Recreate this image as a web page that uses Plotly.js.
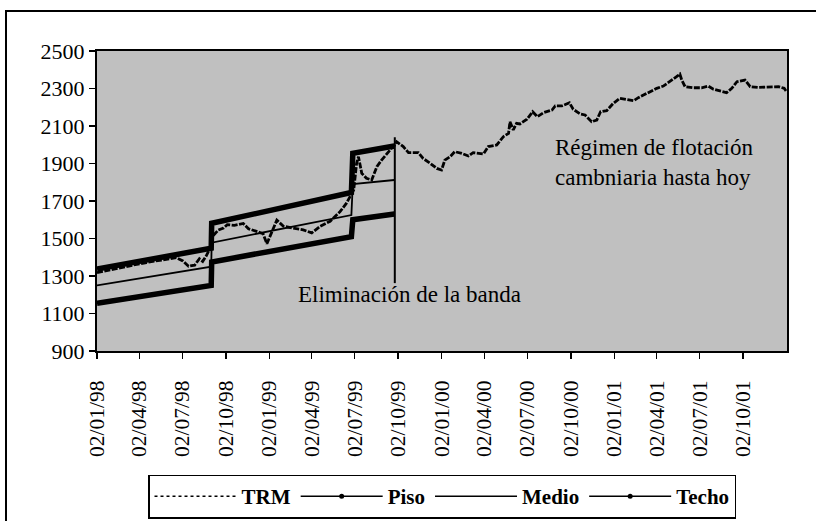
<!DOCTYPE html>
<html>
<head>
<meta charset="utf-8">
<script src="https://cdn.plot.ly/plotly-3.0.1.min.js"></script>
<style>
  html, body { margin: 0; padding: 0; background: #fff; overflow: hidden; }
  #chart { width: 816px; height: 521px; }
  #chart text { font-family: 'Liberation Serif', 'Times New Roman', serif !important; }
  #frame { position: absolute; left: 5px; top: 10px; width: 2000px; height: 2000px;
           border-left: 2px solid #000; border-top: 2px solid #000; pointer-events: none; }
</style>
</head>
<body>
<div id="chart"></div>
<div id="frame"></div>
<script>
// ---- Data ----
const trmDates = [
  '1998-01-02','1998-01-23','1998-02-13','1998-03-06','1998-03-27','1998-04-17','1998-05-08','1998-05-29',
  '1998-06-19','1998-07-03','1998-07-15','1998-07-28','1998-08-07','1998-08-14','1998-08-21','1998-08-28',
  '1998-09-04','1998-09-16','1998-09-27','1998-10-05','1998-10-20','1998-11-08','1998-11-19','1998-12-06',
  '1998-12-20','1998-12-28','1999-01-07','1999-01-18','1999-02-01','1999-02-22','1999-03-15','1999-04-02',
  '1999-04-20','1999-05-11','1999-06-01','1999-06-15','1999-06-25',
  '1999-06-30','1999-07-06','1999-07-10','1999-07-17','1999-07-27','1999-08-07','1999-08-18','1999-08-28',
  '1999-09-08','1999-09-18',
  '1999-09-24','1999-09-29','1999-10-13','1999-10-24','1999-11-14','1999-11-24','1999-12-09','1999-12-23',
  '2000-01-02','2000-01-09','2000-01-20','2000-01-30','2000-02-14','2000-02-28','2000-03-09','2000-03-31',
  '2000-04-10','2000-04-28','2000-05-12','2000-05-23','2000-05-26','2000-06-02','2000-06-09','2000-06-16',
  '2000-07-01','2000-07-13','2000-07-23','2000-08-05','2000-08-23','2000-08-30','2000-09-13','2000-09-29',
  '2000-10-07','2000-10-22','2000-11-01','2000-11-15','2000-11-26','2000-12-04','2000-12-17','2000-12-31',
  '2001-01-14','2001-01-28','2001-02-12','2001-02-22','2001-03-12','2001-04-02','2001-04-16','2001-04-30',
  '2001-05-14','2001-05-21','2001-05-25','2001-06-01','2001-06-19','2001-07-06','2001-07-20','2001-07-31',
  '2001-08-14','2001-08-28','2001-09-08','2001-09-19','2001-10-06','2001-10-17','2001-11-03','2001-11-28',
  '2001-12-16','2001-12-28','2002-01-02'
];
const trmValues = [
  1318,1330,1342,1352,1362,1372,1382,1390,
  1398,1380,1352,1358,1392,1378,1405,1440,
  1512,1545,1556,1574,1570,1580,1552,1538,
  1525,1472,1528,1598,1565,1556,1546,1530,
  1565,1592,1643,1690,1735,
  1760,1900,1936,1848,1821,1812,1883,1918,
  1954,1981,
  1995,2016,1990,1958,1958,1927,1901,1874,
  1865,1918,1936,1963,1954,1940,1958,1951,
  1990,1999,2043,2061,2123,2079,2114,2111,
  2136,2176,2150,2171,2185,2207,2207,2224,
  2189,2164,2159,2123,2132,2176,2182,2221,
  2248,2242,2235,2251,2274,2301,2313,2336,
  2363,2377,2345,2310,2304,2304,2313,2296,
  2287,2278,2301,2336,2345,2310,2306,2310,
  2310,2301,2283
];

const bandDates = ['1998-01-02','1998-09-01','1998-09-02','1999-06-25','1999-06-28','1999-09-24'];
const pisoValues  = [1154, 1250, 1375, 1510, 1600, 1631];
const medioValues = [1250, 1350, 1478, 1625, 1790, 1812];
const techoValues = [1337, 1448, 1581, 1745, 1954, 1993];

const tickDates = ['1998-01-02','1998-04-02','1998-07-02','1998-10-02','1999-01-02','1999-04-02','1999-07-02',
  '1999-10-02','2000-01-02','2000-04-02','2000-07-02','2000-10-02','2001-01-02','2001-04-02','2001-07-02','2001-10-02'];
const tickLabels = ['02/01/98','02/04/98','02/07/98','02/10/98','02/01/99','02/04/99','02/07/99',
  '02/10/99','02/01/00','02/04/00','02/07/00','02/10/00','02/01/01','02/04/01','02/07/01','02/10/01'];

const seriesNames = ['TRM','Piso','Medio','Techo'];
const bandEndDate = '1999-09-25';
const noteBand = 'Eliminación de la banda';
const noteFloat = 'Régimen de flotación<br>cambniaria hasta hoy';

// ---- Chart ----
const FONT = "Liberation Serif";
const nul = [null];

const traces = [
  {x: trmDates, y: trmValues, mode: 'lines', showlegend: false, hoverinfo: 'skip',
   line: {color: '#000', width: 2.8, dash: '6px,1.5px'}},
  {x: bandDates, y: pisoValues, mode: 'lines', showlegend: false,
   line: {color: '#000', width: 5.5}},
  {x: bandDates, y: medioValues, mode: 'lines', showlegend: false,
   line: {color: '#000', width: 1.8}},
  {x: bandDates, y: techoValues, mode: 'lines', showlegend: false,
   line: {color: '#000', width: 5.5}},
  {x: nul, y: nul, name: seriesNames[0], mode: 'lines', line: {color: '#000', width: 1.5, dash: 'dot'}},
  {x: nul, y: nul, name: seriesNames[1], mode: 'lines+markers', line: {color: '#000', width: 1.5}, marker: {size: 5, color: '#000'}},
  {x: nul, y: nul, name: seriesNames[2], mode: 'lines', line: {color: '#000', width: 1.5}},
  {x: nul, y: nul, name: seriesNames[3], mode: 'lines+markers', line: {color: '#000', width: 1.5}, marker: {size: 5, color: '#000'}}
];

const layout = {
  width: 816, height: 521,
  margin: {l: 97, r: 29, t: 51, b: 170, autoexpand: false},
  paper_bgcolor: '#ffffff',
  plot_bgcolor: '#c0c0c0',
  font: {family: FONT, size: 22, color: '#000'},
  showlegend: true,
  legend: {
    orientation: 'h', x: 0.5, xanchor: 'center', y: -0.412, yanchor: 'top',
    bordercolor: '#000', borderwidth: 1.5, bgcolor: '#fff',
    font: {family: FONT, size: 21, color: '#000', weight: 'bold'},
    itemwidth: 82, traceorder: 'normal'
  },
  xaxis: {
    type: 'date', range: ['1998-01-02', '2002-01-03'],
    tickmode: 'array', tickvals: tickDates, ticktext: tickLabels,
    tickangle: -90, ticks: 'outside', ticklen: 6, tickwidth: 1.5, tickcolor: '#000',
    showline: true, linewidth: 2, linecolor: '#000', mirror: true,
    showgrid: false, zeroline: false, ticklabelstandoff: 13,
    tickfont: {family: FONT, size: 21.5, color: '#000'}
  },
  yaxis: {
    range: [900, 2500], tickmode: 'linear', tick0: 900, dtick: 200,
    ticks: 'outside', ticklen: 6, tickwidth: 1.5, tickcolor: '#000',
    showline: true, linewidth: 2, linecolor: '#000', mirror: true,
    showgrid: false, zeroline: false,
    tickfont: {family: FONT, size: 22, color: '#000'}
  },
  shapes: [
    {type: 'line', xref: 'x', yref: 'y', x0: bandEndDate, x1: bandEndDate, y0: 1262, y1: 2040,
     line: {color: '#000', width: 2}}
  ],
  annotations: [
    {xref: 'x', yref: 'y', x: '1999-10-27', y: 1199, text: noteBand, showarrow: false,
     xanchor: 'center', yanchor: 'middle', font: {family: FONT, size: 23, color: '#000'}},
    {xref: 'x', yref: 'y', x: '2000-08-25', y: 1908, text: noteFloat, showarrow: false,
     xanchor: 'left', yanchor: 'middle', align: 'left', font: {family: FONT, size: 23, color: '#000'}}
  ]
};

Plotly.newPlot('chart', traces, layout, {displayModeBar: false, staticPlot: true});
</script>
</body>
</html>
